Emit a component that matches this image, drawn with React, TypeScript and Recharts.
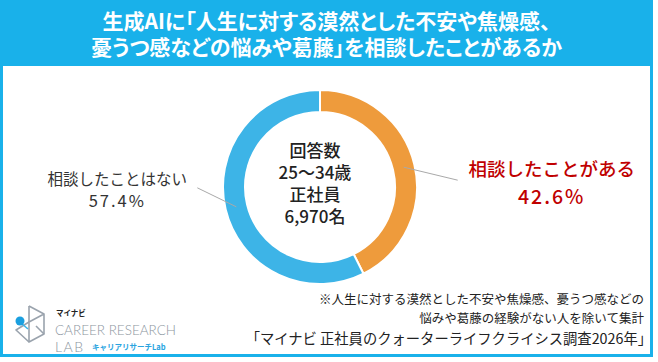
import React from 'react'
import { PieChart, Pie, Cell } from 'recharts'

const categories = ['相談したことがある', '相談したことはない']
const values = [42.6, 57.4]
const sliceColors = ['#EE9B3C', '#3DB4E7']

const titleLines = ['生成AIに「人生に対する漠然とした不安や焦燥感、', '憂うつ感などの悩みや葛藤」を相談したことがあるか']
const centerLines = ['回答数', '25〜34歳', '正社員', '6,970名']
const noteLines = [
  '※人生に対する漠然とした不安や焦燥感、憂うつ感などの',
  '悩みや葛藤の経験がない人を除いて集計',
  '「マイナビ 正社員のクォーターライフクライシス調査2026年」',
]

const data = categories.map((name, i) => ({ name, value: values[i] }))

const BLUE = '#19B1EA'
const FONT = "'Noto Sans CJK JP', 'Noto Sans', sans-serif"
const RAD = Math.PI / 180

// leader line offset + label placement, one per slice
const labelStyles = [
  { dx: 54, dy: 13, tx: 94, ty: -12, gap: 27, size: 18.5, pct: 19.5, color: '#C00000', weight: 500 },
  { dx: -39, dy: -19, tx: -80, ty: -10, gap: 22, size: 15.5, pct: 16.5, color: '#333333', weight: 400 },
]

const renderLabel = (props: any) => {
  const { cx, cy, midAngle, innerRadius, outerRadius, index } = props
  const name = props.name ?? props.payload?.name
  const value = props.value ?? props.payload?.value
  const r = (innerRadius + outerRadius) / 2
  const sx = cx + r * Math.cos(-midAngle * RAD)
  const sy = cy + r * Math.sin(-midAngle * RAD)
  const s = labelStyles[index]
  const ex = sx + s.dx
  const ey = sy + s.dy
  return (
    <g key={`lbl-${index}`}>
      <line x1={sx} y1={sy} x2={ex} y2={ey} stroke="#A9A9A9" strokeWidth={1} />
      <text
        x={ex + s.tx}
        y={ey + s.ty}
        textAnchor="middle"
        dominantBaseline="central"
        fill={s.color}
        fontSize={s.size}
        fontWeight={s.weight}
        fontFamily={FONT}
      >
        {name}
      </text>
      <text
        x={ex + s.tx}
        y={ey + s.ty + s.gap}
        textAnchor="middle"
        dominantBaseline="central"
        fill={s.color}
        fontSize={s.pct}
        fontWeight={s.weight}
        fontFamily={FONT}
        letterSpacing={2}
      >
        {Number(value).toFixed(1)}%
      </text>
    </g>
  )
}

const Logo = () => (
  <svg width={200} height={62} style={{ position: 'absolute', left: 0, top: 296 }}>
    <g fill="none" stroke="#9AA3AD" strokeWidth={1.6} strokeLinejoin="round">
      <polyline points="29,10 44,18 44,38 29,46 29,26 44,18" />
      <polyline points="29,26 16,34 29,46" />
      <line x1={29} y1={10} x2={29} y2={26} />
      <line x1={36} y1={30} x2={44} y2={38} />
    </g>
    <line x1={21} y1={27} x2={28} y2={33} stroke="#3DB4E7" strokeWidth={1.6} />
    <circle cx={20} cy={25} r={4.5} fill="#1A9FDF" />
    <text x={56} y={20} fontSize={7.5} fontWeight={700} fill="#222" fontFamily={FONT}>マイナビ</text>
    <text x={55} y={39} fontSize={14} fill="#8C96A0" fontFamily="'Lato', 'DejaVu Sans', sans-serif" fontWeight={300} textLength={121} lengthAdjust="spacingAndGlyphs">
      CAREER RESEARCH
    </text>
    <text x={55} y={56} fontSize={14} fill="#8C96A0" fontFamily="'Lato', 'DejaVu Sans', sans-serif" fontWeight={300} letterSpacing={1.5}>
      LAB
    </text>
    <text x={92} y={54} fontSize={7.5} fontWeight={700} fill="#2AA4DF" fontFamily={FONT}>キャリアリサーチLab</text>
  </svg>
)

export default function App() {
  return (
    <div
      style={{
        position: 'absolute',
        left: 0,
        top: 0,
        width: 658,
        height: 362,
        background: '#fff',
        fontFamily: FONT,
        overflow: 'hidden',
      }}
    >
      <div
        style={{
          position: 'absolute',
          left: 0,
          top: 0,
          width: 653,
          height: 357,
          border: `3px solid ${BLUE}`,
          boxSizing: 'border-box',
        }}
      />
      <div
        style={{
          position: 'absolute',
          left: 0,
          top: 0,
          width: 653,
          height: 66,
          background: BLUE,
          color: '#fff',
          fontSize: 21,
          fontWeight: 700,
          lineHeight: '26px',
          textAlign: 'center',
          paddingTop: 7,
          boxSizing: 'border-box',
          fontFeatureSettings: "'palt'",
          whiteSpace: 'nowrap',
        }}
      >
        {titleLines.map((t) => (
          <div key={t}>{t}</div>
        ))}
      </div>

      <div style={{ position: 'absolute', left: 0, top: 0 }}>
        <PieChart width={658} height={362}>
          <Pie
            data={data}
            dataKey="value"
            nameKey="name"
            cx={315}
            cy={182}
            innerRadius={75}
            outerRadius={97}
            startAngle={90}
            endAngle={-270}
            stroke="#fff"
            strokeWidth={2}
            label={renderLabel}
            labelLine={false}
            isAnimationActive={false}
          >
            {data.map((d, i) => (
              <Cell key={d.name} fill={sliceColors[i]} />
            ))}
          </Pie>
        </PieChart>
      </div>

      <div
        style={{
          position: 'absolute',
          left: 235,
          top: 139,
          width: 160,
          textAlign: 'center',
          fontSize: 17,
          fontWeight: 500,
          lineHeight: '22px',
          color: '#222',
        }}
      >
        {centerLines.map((t) => (
          <div key={t}>{t}</div>
        ))}
      </div>

      <div
        style={{
          position: 'absolute',
          right: 14,
          top: 289,
          textAlign: 'right',
          color: '#222',
          whiteSpace: 'nowrap',
        }}
      >
        <div style={{ fontSize: 12.5, lineHeight: '19px' }}>{noteLines[0]}</div>
        <div style={{ fontSize: 12.5, lineHeight: '19px' }}>{noteLines[1]}</div>
        <div style={{ fontSize: 14.3, lineHeight: '21px', marginRight: -8 }}>{noteLines[2]}</div>
      </div>

      <Logo />
    </div>
  )
}
